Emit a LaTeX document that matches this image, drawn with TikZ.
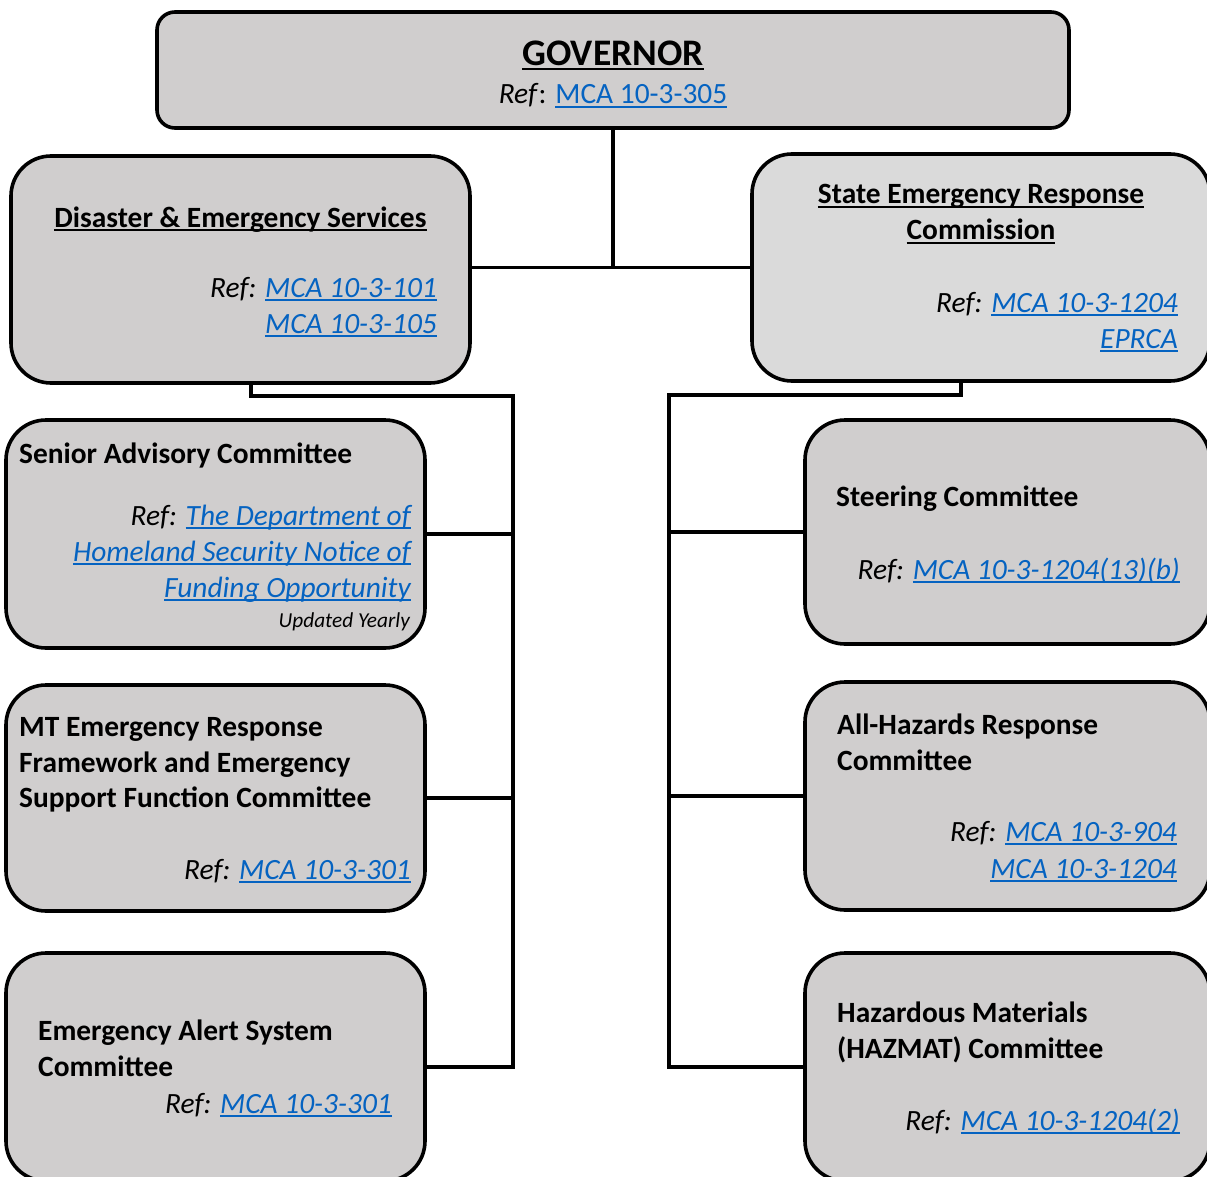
\documentclass[tikz,border=0pt]{standalone}
\usepackage{fontspec}
\setmainfont{Carlito}
\definecolor{boxgray}{RGB}{208,206,206}
\definecolor{boxlight}{RGB}{218,218,218}
\definecolor{linkblue}{RGB}{5,99,193}
\newcommand\myul[1]{\setbox0\hbox{#1}\rlap{\rule[-0.12em]{\wd0}{0.065em}}\box0}
\newcommand\lnk[1]{{\color{linkblue}\myul{#1}}}
\begin{document}
\begin{tikzpicture}[x=1pt,y=-1pt,
  orgbox/.style={draw=black, line width=3.6pt, fill=boxgray, rounded corners=40pt, inner sep=0pt},
  conn/.style={draw=black, line width=3.4pt},
  txt/.style={inner sep=0pt, font=\fontsize{29.4}{36}\selectfont},
  ttl/.style={txt, font=\fontsize{29.4}{36}\selectfont\bfseries},
  refl/.style={txt, font=\fontsize{29.4}{36}\selectfont\itshape, anchor=base east}]
\useasboundingbox (0,0) rectangle (1207,1177);
\clip (0,0) rectangle (1207,1177);
\fill[white] (0,0) rectangle (1207,1177);

% boxes
\node[orgbox, rounded corners=18pt, minimum width=912pt, minimum height=116pt] (gov) at (613,70) {};
\node[orgbox, minimum width=459pt, minimum height=227pt] (des) at (240.5,269.5) {};
\node[orgbox, fill=boxlight, minimum width=458pt, minimum height=227pt] (serc) at (981,267.5) {};
\node[orgbox, minimum width=419pt, minimum height=228pt] (sac) at (215.5,534) {};
\node[orgbox, minimum width=419pt, minimum height=226pt] (mt) at (215.5,798) {};
\node[orgbox, minimum width=419pt, minimum height=228pt] (eas) at (215.5,1067) {};
\node[orgbox, minimum width=405pt, minimum height=224pt] (steer) at (1007.5,532) {};
\node[orgbox, minimum width=405pt, minimum height=228pt] (ah) at (1007.5,796) {};
\node[orgbox, minimum width=405pt, minimum height=228pt] (haz) at (1007.5,1067) {};

% connectors
\draw[conn] (gov.south) -- (gov.south |- serc.west);
\draw[conn] (des.east |- serc.west) -- (serc.west);
\coordinate (lj) at (513,396);
\coordinate (rj) at (669,395);
\draw[conn] ([xshift=10.5pt]des.south) |- (lj) -- (lj |- eas.east) -- (eas.east);
\draw[conn] (sac.east) -- (sac.east -| lj);
\draw[conn] (mt.east) -- (mt.east -| lj);
\draw[conn] ([xshift=-20pt]serc.south) |- (rj) -- (rj |- haz.west) -- (haz.west);
\draw[conn] (steer.west) -- (steer.west -| rj);
\draw[conn] (ah.west) -- (ah.west -| rj);

% governor
\node[txt, font=\fontsize{37.5}{44}\selectfont\bfseries, anchor=base] (govt) at (613,66) {\myul{GOVERNOR}};
\node[txt, anchor=base] (govr) at (613,104) {\textit{Ref}: \lnk{MCA 10-3-305}};

% DES
\node[ttl, anchor=base] (dest) at (240.5,227) {\myul{Disaster \& Emergency Services}};
\node[refl] (desr1) at (437,297) {Ref: \lnk{MCA 10-3-101}};
\node[refl] (desr2) at (437,333) {\lnk{MCA 10-3-105}};

% SERC
\node[ttl, anchor=base] (sert1) at (981,204) {\myul{State Emergency Response}};
\node[ttl, anchor=base] (sert2) at (981,240) {\myul{Commission}};
\node[refl] (serr1) at (1178,312) {Ref: \lnk{MCA 10-3-1204}};
\node[refl] (serr2) at (1178,348) {\lnk{EPRCA}};

% Senior Advisory
\node[ttl, anchor=base west] (sact) at (19,463) {Senior Advisory Committee};
\node[refl] (sacr1) at (411,525) {Ref: \lnk{The Department of}};
\node[refl] (sacr2) at (411,561) {\lnk{Homeland Security Notice of}};
\node[refl] (sacr3) at (411,597) {\lnk{Funding Opportunity}};
\node[txt, font=\fontsize{21.3}{25}\selectfont\itshape, anchor=base east] (sacu) at (410,627) {Updated Yearly};

% MT
\node[ttl, anchor=base west] (mtt1) at (19,736) {MT Emergency Response};
\node[ttl, anchor=base west] (mtt2) at (19,772) {Framework and Emergency};
\node[ttl, anchor=base west] (mtt3) at (19,807) {Support Function Committee};
\node[refl] (mtr) at (411,879) {Ref: \lnk{MCA 10-3-301}};

% EAS
\node[ttl, anchor=base west] (east1) at (38,1040) {Emergency Alert System};
\node[ttl, anchor=base west] (east2) at (38,1076) {Committee};
\node[refl] (easr) at (392,1113) {Ref: \lnk{MCA 10-3-301}};

% Steering
\node[ttl, anchor=base west] (stt) at (836,506) {Steering Committee};
\node[refl] (str) at (1180,579) {Ref: \lnk{MCA 10-3-1204(13)(b)}};

% All-Hazards
\node[ttl, anchor=base west] (aht1) at (837,734) {All-Hazards Response};
\node[ttl, anchor=base west] (aht2) at (837,770) {Committee};
\node[refl] (ahr1) at (1177,841) {Ref: \lnk{MCA 10-3-904}};
\node[refl] (ahr2) at (1177,878) {\lnk{MCA 10-3-1204}};

% HAZMAT
\node[ttl, anchor=base west] (hazt1) at (837,1022) {Hazardous Materials};
\node[ttl, anchor=base west] (hazt2) at (837,1058) {(HAZMAT) Committee};
\node[refl] (hazr) at (1180,1130) {Ref: \lnk{MCA 10-3-1204(2)}};
\end{tikzpicture}
\end{document}
